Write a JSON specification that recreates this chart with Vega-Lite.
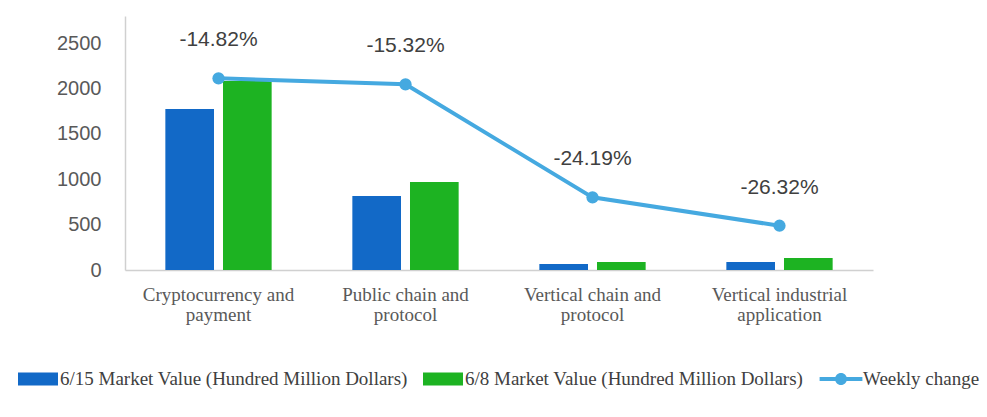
{
  "$schema": "https://vega.github.io/schema/vega-lite/v6.json",
  "autosize": "none",
  "width": 748,
  "height": 254,
  "padding": {"left": 125, "top": 16, "right": 114, "bottom": 147},
  "background": "white",
  "datasets": {
    "bars": [
      {"category": "Cryptocurrency and payment", "series": "6/15 Market Value (Hundred Million Dollars)", "value": 1775},
      {"category": "Cryptocurrency and payment", "series": "6/8 Market Value (Hundred Million Dollars)", "value": 2083},
      {"category": "Public chain and protocol", "series": "6/15 Market Value (Hundred Million Dollars)", "value": 816},
      {"category": "Public chain and protocol", "series": "6/8 Market Value (Hundred Million Dollars)", "value": 970},
      {"category": "Vertical chain and protocol", "series": "6/15 Market Value (Hundred Million Dollars)", "value": 66},
      {"category": "Vertical chain and protocol", "series": "6/8 Market Value (Hundred Million Dollars)", "value": 88},
      {"category": "Vertical industrial application", "series": "6/15 Market Value (Hundred Million Dollars)", "value": 88},
      {"category": "Vertical industrial application", "series": "6/8 Market Value (Hundred Million Dollars)", "value": 132}
    ],
    "line": [
      {"category": "Cryptocurrency and payment", "position": 2113, "change": "-14.82%"},
      {"category": "Public chain and protocol", "position": 2047, "change": "-15.32%"},
      {"category": "Vertical chain and protocol", "position": 801, "change": "-24.19%"},
      {"category": "Vertical industrial application", "position": 488, "change": "-26.32%"}
    ]
  },
  "encoding": {
    "x": {
      "field": "category",
      "type": "nominal",
      "sort": null,
      "scale": {"paddingInner": 0, "paddingOuter": 0},
      "axis": {
        "title": null,
        "labelAngle": 0,
        "labelFont": "Liberation Serif",
        "labelFontSize": 19,
        "labelColor": "#595959",
        "labelLineHeight": 20,
        "labelPadding": 15,
        "labelExpr": "[slice(datum.label, 0, lastindexof(datum.label, ' ')), slice(datum.label, lastindexof(datum.label, ' ') + 1)]",
        "ticks": false,
        "domainColor": "#D0D0D0",
        "domainWidth": 1.5,
        "labelLimit": 300
      }
    }
  },
  "layer": [
    {
      "data": {"name": "bars"},
      "mark": {"type": "bar"},
      "encoding": {
        "xOffset": {"field": "series", "type": "nominal", "sort": null, "scale": {"paddingInner": 0.156, "paddingOuter": 0.7}},
        "y": {
          "field": "value",
          "type": "quantitative",
          "scale": {"domain": [0, 2800], "nice": false},
          "axis": {
            "title": null,
            "values": [0, 500, 1000, 1500, 2000, 2500],
            "format": "d",
            "grid": false,
            "ticks": false,
            "labelFont": "Liberation Sans",
            "labelFontSize": 20,
            "labelColor": "#595959",
            "labelPadding": 24,
            "domainColor": "#D0D0D0",
            "domainWidth": 1.5
          }
        },
        "color": {
          "field": "series",
          "type": "nominal",
          "scale": {
            "domain": ["6/15 Market Value (Hundred Million Dollars)", "6/8 Market Value (Hundred Million Dollars)", "Weekly change"],
            "range": ["#1269C7", "#1DB322", "#45A9E0"]
          },
          "legend": {
            "title": null,
            "orient": "none",
            "direction": "horizontal",
            "legendX": -107,
            "legendY": 343,
            "padding": 0,
            "symbolSize": 1600,
            "symbolType": "M-1,-0.32H1V0.32H-1Z",
            "symbolStrokeWidth": 0,
            "labelFont": "Liberation Serif",
            "labelFontSize": 19,
            "labelColor": "#404040",
            "labelOffset": 2,
            "labelLimit": 500,
            "columnPadding": 15,
            "encode": {
              "symbols": {
                "update": {
                  "shape": {"signal": "datum.value === 'Weekly change' ? 'M-1.07,-0.1H1.07V0.1H-1.07Z M-0.3,0A0.3,0.3 0 1,1 0.3,0A0.3,0.3 0 1,1 -0.3,0Z' : 'M-1,-0.32H1V0.32H-1Z'"},
                  "opacity": {"value": 1},
                  "strokeWidth": {"value": 0}
                }
              }
            }
          }
        }
      }
    },
    {
      "data": {"name": "line"},
      "mark": {"type": "line", "color": "#45A9E0", "strokeWidth": 4, "point": {"filled": true, "size": 150, "color": "#45A9E0"}},
      "encoding": {
        "y": {"field": "position", "type": "quantitative"}
      }
    },
    {
      "data": {"name": "line"},
      "mark": {"type": "text", "dy": -38, "font": "Liberation Sans", "fontSize": 21, "color": "#404040"},
      "encoding": {
        "y": {"field": "position", "type": "quantitative"},
        "text": {"field": "change", "type": "nominal"}
      }
    }
  ],
  "config": {"view": {"stroke": null}}
}
